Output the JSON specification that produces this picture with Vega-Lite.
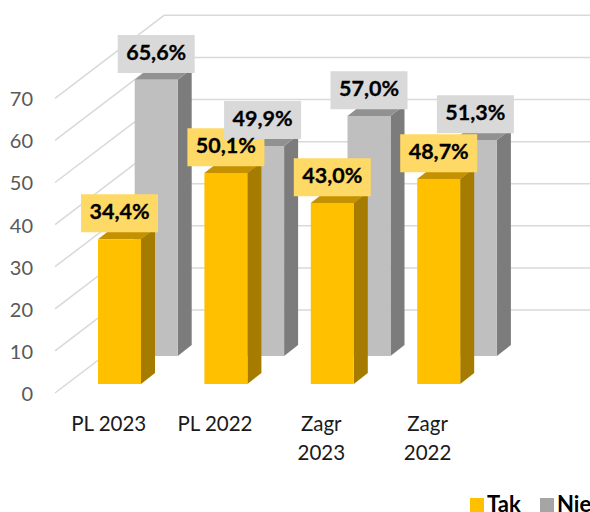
{"$schema":"https://vega.github.io/schema/vega-lite/v6.json","width":590,"height":512,"padding":0,"autosize":{"type":"none"},"background":"white","config":{"view":{"stroke":null},"font":"Lato"},
"resolve":{"axis":{"y":"independent","x":"independent"}},
"data":{"values":[
{"category":"PL 2023","series":"Tak","value":34.4,"label":"34,4%"},
{"category":"PL 2022","series":"Tak","value":50.1,"label":"50,1%"},
{"category":"Zagr 2023","series":"Tak","value":43.0,"label":"43,0%"},
{"category":"Zagr 2022","series":"Tak","value":48.7,"label":"48,7%"},
{"category":"PL 2023","series":"Nie","value":65.6,"label":"65,6%"},
{"category":"PL 2022","series":"Nie","value":49.9,"label":"49,9%"},
{"category":"Zagr 2023","series":"Nie","value":57.0,"label":"57,0%"},
{"category":"Zagr 2022","series":"Nie","value":51.3,"label":"51,3%"}]},
"transform":[
{"calculate":"indexof(['PL 2023','PL 2022','Zagr 2023','Zagr 2022'],datum.category)","as":"idx"},
{"calculate":"98+106.4*datum.idx+(datum.series=='Nie'?36.7:0)","as":"x0"},
{"calculate":"datum.x0+43","as":"x1"},
{"calculate":"datum.series=='Tak'?2.14:8.79","as":"yb"},
{"calculate":"datum.yb+datum.value","as":"yt"},
{"calculate":"(datum.x0+datum.x1)/2","as":"xc"},
{"calculate":"datum.yt+6.13","as":"yc"},
{"calculate":"datum.xc-38.5","as":"lx0"},{"calculate":"datum.xc+38.5","as":"lx1"},
{"calculate":"datum.yc-4.51","as":"ly0"},{"calculate":"datum.yc+4.51","as":"ly1"},
{"calculate":"['side','top','front']","as":"face"},{"flatten":["face"]},{"calculate":"[0,1,2,3]","as":"vertex"},{"flatten":["vertex"]},
{"calculate":"datum.face=='front'?[datum.x0,datum.x1,datum.x1,datum.x0][datum.vertex]:datum.face=='side'?[datum.x1,datum.x1+14,datum.x1+14,datum.x1][datum.vertex]:[datum.x0,datum.x1,datum.x1+14,datum.x0+14][datum.vertex]","as":"px"},
{"calculate":"datum.face=='front'?[datum.yb,datum.yb,datum.yt,datum.yt][datum.vertex]:datum.face=='side'?[datum.yb,datum.yb+2.6,datum.yt+2.6,datum.yt][datum.vertex]:[datum.yt,datum.yt,datum.yt+2.6,datum.yt+2.6][datum.vertex]","as":"py"},
{"calculate":"(datum.series=='Nie'?'a ':'b ')+datum.face","as":"shade"}
],
"layer":[
{"data":{"values":[{"grid":0},{"grid":10},{"grid":20},{"grid":30},{"grid":40},{"grid":50},{"grid":60},{"grid":70}]},
 "transform":[{"calculate":"datum.grid+19.7","as":"back"},{"calculate":"55","as":"gx0"},{"calculate":"164","as":"gx1"}],
 "mark":{"type":"rule","color":"#d9d9d9","strokeWidth":1.5},
 "encoding":{"x":{"field":"gx0","type":"quantitative","scale":{"domain":[0,590],"nice":false,"zero":false},"axis":null},"x2":{"field":"gx1"},
 "y":{"field":"grid","type":"quantitative","scale":{"domain":[-28.266,93.349],"nice":false,"zero":false},
  "axis":{"title":null,"values":[0,10,20,30,40,50,60,70],"domain":false,"ticks":false,"grid":false,"offset":-32.5,"labelPadding":0,"labelFontSize":20,"labelFont":"Lato","labelColor":"#595959","labelOffset":1.5}},"y2":{"field":"back"}}},
{"data":{"values":[{"grid":0},{"grid":10},{"grid":20},{"grid":30},{"grid":40},{"grid":50},{"grid":60},{"grid":70}]},
 "transform":[{"calculate":"datum.grid+19.7","as":"back"},{"calculate":"164","as":"gx1"},{"calculate":"590","as":"gx2"}],
 "mark":{"type":"rule","color":"#d9d9d9","strokeWidth":1.5},
 "encoding":{"x":{"field":"gx1","type":"quantitative","axis":null},"x2":{"field":"gx2"},"y":{"field":"back","type":"quantitative","axis":null}}},
{"transform":[{"filter":"datum.series=='Nie'"}],
 "mark":{"type":"line","filled":true,"interpolate":"linear-closed","strokeWidth":0},
 "encoding":{"x":{"field":"px","type":"quantitative","axis":null},"y":{"field":"py","type":"quantitative","axis":null},
 "fill":{"field":"shade","type":"nominal","legend":null,"scale":{"domain":["a front","a side","a top","b front","b side","b top"],"range":["#bfbfbf","#7c7c7c","#919191","#ffc000","#a67c00","#c49200"]}},
 "detail":{"field":"category"},"order":{"field":"vertex"}}},
{"transform":[{"filter":"datum.series=='Tak'"}],
 "mark":{"type":"line","filled":true,"interpolate":"linear-closed","strokeWidth":0},
 "encoding":{"x":{"field":"px","type":"quantitative","axis":null},"y":{"field":"py","type":"quantitative","axis":null},
 "fill":{"field":"shade","type":"nominal","legend":null},
 "detail":{"field":"category"},"order":{"field":"vertex"}}},
{"transform":[{"filter":"datum.series=='Tak' && datum.face=='front' && datum.vertex==0"}],"mark":{"type":"rect","color":"#ffd966"},"encoding":{"x":{"field":"lx0","type":"quantitative","axis":null},"x2":{"field":"lx1"},"y":{"field":"ly0","type":"quantitative","axis":null},"y2":{"field":"ly1"}}},
{"transform":[{"filter":"datum.series=='Nie' && datum.face=='front' && datum.vertex==0"}],"mark":{"type":"rect","color":"#d9d9d9"},"encoding":{"x":{"field":"lx0","type":"quantitative","axis":null},"x2":{"field":"lx1"},"y":{"field":"ly0","type":"quantitative","axis":null},"y2":{"field":"ly1"}}},
{"transform":[{"filter":"datum.face=='front' && datum.vertex==0"}],"mark":{"type":"text","font":"Lato","fontWeight":"bold","fontSize":21.5,"color":"#000000","stroke":"#000000","strokeWidth":0.3,"baseline":"middle","align":"center"},"encoding":{"x":{"field":"xc","type":"quantitative","axis":null},"y":{"field":"yc","type":"quantitative","axis":null},"text":{"field":"label"}}},
{"transform":[{"filter":"datum.series=='Tak' && datum.face=='front' && datum.vertex==0"},{"calculate":"108.7+106.3*datum.idx","as":"tx"},{"calculate":"-5.23","as":"ty"},{"calculate":"replace(datum.category,'Zagr ','Zagr\\n')","as":"tick"}],
 "mark":{"type":"text","font":"Lato","fontSize":20.5,"color":"#1a1a1a","baseline":"top","align":"center","lineBreak":"\n","lineHeight":28.6},
 "encoding":{"x":{"field":"tx","type":"quantitative","axis":null},"y":{"field":"ty","type":"quantitative","axis":null},"text":{"field":"tick"}}},
{"transform":[{"filter":"datum.face=='front' && datum.vertex==0"}],"mark":{"type":"point","shape":"square","filled":true,"opacity":0},
 "encoding":{"x":{"field":"xc","type":"quantitative","axis":null},"y":{"field":"yc","type":"quantitative","axis":null},
 "color":{"field":"series","type":"nominal","scale":{"domain":["Tak","Nie"],"range":["#ffc000","#a5a5a5"]},
 "legend":{"title":null,"orient":"none","legendX":466,"legendY":494,"direction":"horizontal","columns":2,"symbolType":"square","symbolSize":196,"symbolOpacity":1,"symbolStrokeWidth":0,"labelFont":"Lato","labelFontWeight":"bold","labelFontSize":22,"labelColor":"#000000","labelOffset":-1,"columnPadding":15,"padding":0,"labelLimit":200,"symbolOffset":0}}}}
]}
